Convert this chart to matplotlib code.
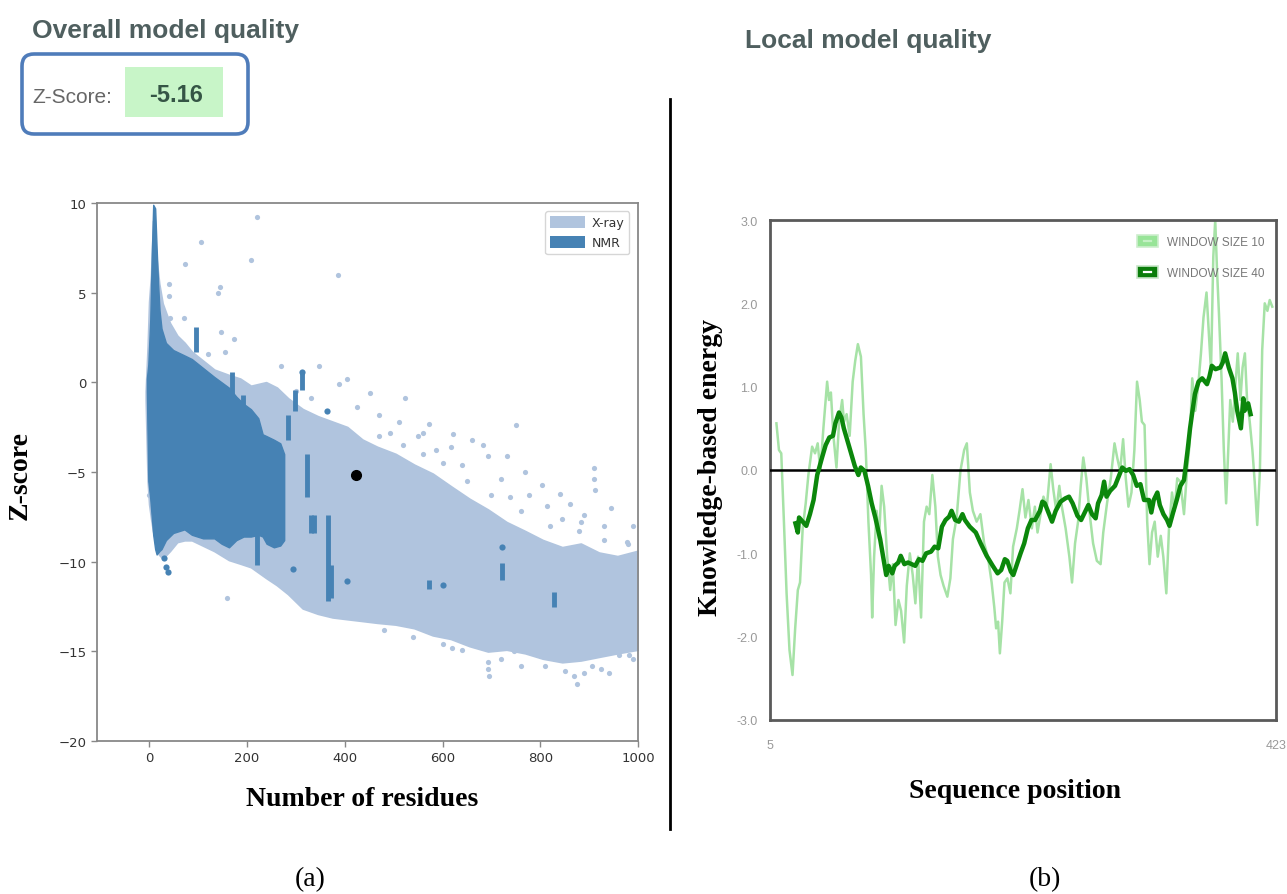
import matplotlib
matplotlib.use("Agg")
import matplotlib.pyplot as plt
from matplotlib.patches import FancyBboxPatch, Rectangle, Patch
from matplotlib.transforms import IdentityTransform
from matplotlib.lines import Line2D
from matplotlib.legend_handler import HandlerBase

# ---------------- data: panel (a) ----------------
xray_x = [-7, -3, 0, 4, 8, 14, 20, 27, 35, 42, 57, 72, 87, 110, 133, 163, 186, 208, 239, 261,
          284, 314, 345, 375, 405, 436, 466, 504, 542, 580, 617, 655, 693, 731, 769, 805, 845,
          883, 920, 958, 1000, 1010]
xray_upper = [-0.5, 2.0, 4.5, 6.0, 9.0, 7.0, 5.5, 4.4, 3.8, 3.3, 2.6, 2.2, 1.7, 1.2, 0.7, 0.4, 0.2,
              -0.2, 0.0, -0.3, -0.9, -1.5, -1.9, -2.2, -2.5, -3.2, -3.6, -4.0, -4.6, -5.1, -5.8,
              -6.5, -7.1, -7.8, -8.3, -8.8, -9.2, -9.0, -9.5, -9.7, -9.4, -9.4]
xray_lower = [-1.0, -5.5, -6.8, -7.6, -8.3, -9.0, -9.6, -9.8, -9.6, -9.4, -8.9, -8.8, -8.8, -9.1,
              -9.4, -9.9, -10.1, -10.3, -10.9, -11.3, -11.8, -12.6, -12.9, -13.1, -13.2, -13.3,
              -13.4, -13.5, -13.7, -14.1, -14.3, -14.7, -15.0, -14.9, -15.1, -15.4, -15.6, -15.5,
              -15.3, -15.1, -14.9, -14.9]
xray_sparse = [(220, 9.2), (105, 7.8), (74, 6.6), (208, 6.8), (386, 6.0), (40, 5.5), (40, 4.8),
               (144, 5.3), (140, 5.0), (42, 3.6), (70, 3.6), (146, 2.8), (174, 2.4), (155, 1.7),
               (121, 1.6), (269, 0.9), (348, 0.9), (405, 0.2), (388, -0.1), (451, -0.6),
               (523, -0.9), (424, -1.4), (572, -2.3), (750, -2.4), (621, -2.9), (682, -3.5),
               (803, -5.7), (909, -4.8), (909, -5.4), (912, -6.0), (945, -7.0), (977, -8.9),
               (0, -6.3), (159, -12.0), (889, -16.2), (924, -16.0), (693, -15.6), (693, -16.0),
               (695, -16.4), (875, -16.8), (746, -15.0), (799, -15.2), (962, -15.2), (981, -15.2),
               (492, -2.8), (549, -3.0), (587, -3.8), (617, -3.6), (640, -4.6), (693, -4.1),
               (731, -4.1), (769, -5.0), (739, -6.4), (777, -6.3), (814, -6.9), (845, -7.6),
               (883, -7.8), (890, -7.4), (300, -0.5), (330, -0.9), (470, -1.8), (510, -2.2),
               (560, -2.8), (660, -3.2), (720, -5.4), (840, -6.2), (860, -6.8), (930, -8.0),
               (990, -8.0), (850, -16.1), (870, -16.4), (760, -15.8), (640, -14.9), (600, -14.6),
               (940, -16.2), (470, -3.0), (520, -3.5), (560, -4.0), (600, -4.5), (650, -5.5),
               (700, -6.3), (760, -7.2), (820, -8.0), (880, -8.3), (930, -8.8), (980, -9.0),
               (480, -13.8), (540, -14.2), (620, -14.8), (720, -15.4), (810, -15.8), (905, -15.8),
               (990, -15.4)]

nmr_x = [-5, -2, 2, 5, 8, 12, 15, 18, 21, 25, 34, 49, 72, 87, 110, 133, 148, 163, 178, 193, 208,
         223, 232, 240, 255, 268, 276]
nmr_upper = [0.2, 1.0, 3.5, 7.0, 9.9, 9.7, 7.5, 5.5, 4.0, 3.0, 2.2, 1.8, 1.5, 1.3, 0.8, 0.3, 0.0,
             -0.3, -0.8, -1.2, -1.5, -2.0, -2.9, -3.0, -3.2, -3.4, -4.0]
nmr_lower = [-0.5, -5.5, -6.5, -7.5, -8.5, -9.3, -9.6, -9.5, -9.4, -9.3, -8.8, -8.4, -8.2, -8.5,
             -8.7, -8.7, -9.0, -9.2, -8.8, -8.6, -8.6, -8.5, -8.6, -9.0, -9.2, -9.1, -8.8]
nmr_streak_x = [95, 169, 191, 208, 220, 231, 283, 298, 312, 323, 330, 338, 365, 372, 572, 722, 828]
nmr_streak_lo = [1.7, -1.2, -2.2, -3.2, -10.2, -5.2, -3.2, -1.6, -0.4, -6.4, -8.4, -8.4, -12.2,
                 -12.0, -11.5, -11.0, -12.5]
nmr_streak_hi = [3.1, 0.6, -0.7, -1.8, -3.6, -3.0, -1.8, -0.4, 0.5, -4.0, -7.4, -7.4, -7.4, -10.2,
                 -11.0, -10.1, -11.7]
nmr_dots = [(312, 0.6), (364, -1.6), (294, -10.4), (405, -11.1), (601, -11.3), (722, -9.2),
            (30, -9.8), (35, -10.3), (38, -10.6)]

model_residues = 423
model_zscore = -5.16

xticks_a = [0, 200, 400, 600, 800, 1000]
yticks_a = [-20, -15, -10, -5, 0, 5, 10]

# ---------------- data: panel (b) ----------------
ws10_points = [(10.3, 0.56), (12.4, 0.24), (14.3, 0.20), (16.5, -0.62), (18.7, -1.48), (21.1, -2.16),
               (23.6, -2.46), (25.8, -1.90), (28.0, -1.44), (29.8, -1.35), (32.0, -0.70), (34.5, -0.40),
               (36.7, -0.06), (39.8, 0.28), (42.2, 0.20), (44.4, 0.32), (46.6, -0.01), (49.1, 0.50),
               (52.2, 1.06), (53.7, 0.84), (55.3, 0.93), (57.4, 0.41), (59.9, 0.03), (62.1, 0.58),
               (64.6, 0.84), (66.1, 0.58), (68.3, 0.67), (70.8, 0.41), (73.3, 1.06), (75.4, 1.31),
               (77.6, 1.51), (80.1, 1.36), (82.3, 0.67), (84.1, 0.24), (86.3, -0.62), (88.5, -1.26),
               (89.4, -1.77), (91.0, -1.04), (93.1, -0.49), (95.0, -0.83), (97.2, -0.19), (99.3, -0.44),
               (101.8, -1.04), (104.3, -1.44), (106.5, -1.13), (108.7, -1.86), (111.1, -1.56),
               (113.3, -1.69), (115.8, -2.07), (118.0, -1.39), (120.5, -1.00), (122.9, -1.26),
               (125.1, -1.60), (127.3, -1.04), (129.8, -1.77), (132.2, -0.62), (134.4, -0.44),
               (136.6, -0.53), (139.1, -0.06), (141.6, -0.44), (143.7, -1.04), (145.9, -1.26),
               (148.4, -1.39), (151.5, -1.52), (154.0, -1.30), (156.1, -0.83), (159.2, -0.57),
               (162.3, -0.01), (165.4, 0.24), (167.6, 0.32), (170.1, -0.27), (172.6, -0.49),
               (175.7, -0.62), (178.8, -0.53), (181.9, -0.88), (185.0, -1.04), (188.1, -1.35),
               (190.3, -1.65), (191.8, -1.90), (193.4, -1.82), (194.9, -2.20), (196.8, -1.82),
               (198.7, -1.35), (201.1, -1.30), (203.6, -1.48), (205.8, -0.92), (208.9, -0.70),
               (211.1, -0.49), (213.6, -0.23), (216.0, -0.57), (218.5, -0.36), (221.3, -0.70),
               (223.8, -0.44), (226.0, -0.75), (228.5, -0.53), (230.9, -0.32), (233.7, -0.44),
               (236.8, 0.07), (239.0, -0.23), (241.5, -0.49), (244.0, -0.19), (246.1, -0.44),
               (249.2, -0.70), (252.3, -1.04), (254.5, -1.35), (257.0, -0.88), (259.5, -0.62),
               (261.7, -0.19), (263.8, 0.15), (266.3, -0.10), (268.8, -0.49), (271.9, -0.88),
               (275.0, -1.09), (278.1, -1.13), (280.3, -0.75), (283.4, -0.40), (286.5, -0.10),
               (289.6, 0.32), (291.8, 0.15), (294.2, -0.01), (296.7, 0.37), (298.9, -0.10),
               (301.1, -0.44), (303.6, -0.27), (306.0, 0.24), (308.2, 1.06), (310.4, 0.84),
               (312.2, 0.58), (314.4, 0.54), (316.6, -0.62), (318.5, -1.13), (320.6, -0.75),
               (322.8, -0.62), (325.3, -1.04), (327.8, -0.79), (329.9, -1.04), (332.4, -1.48),
               (334.6, -0.70), (337.1, -0.27), (339.2, -0.49), (341.4, -0.10), (343.9, -0.14),
               (347.0, -0.53), (349.5, -0.01), (351.7, 0.32), (353.8, 1.10), (356.3, 0.71),
               (358.8, 1.02), (361.0, 1.40), (363.1, 1.83), (365.6, 2.13), (367.8, 1.57),
               (369.3, 1.19), (371.2, 2.56), (372.8, 3.00), (374.3, 2.39), (375.9, 1.87),
               (378.0, 1.10), (379.9, 0.24), (381.8, -0.40), (383.6, 0.24), (385.2, 0.84),
               (387.3, 0.58), (389.5, 1.02), (391.4, 1.40), (393.6, 0.84), (395.4, 1.23),
               (397.3, 1.40), (399.1, 0.84), (401.3, 0.58), (403.5, 0.24), (405.4, -0.14),
               (407.5, -0.66), (409.7, -0.01), (411.6, 1.44), (413.7, 2.00), (415.9, 1.91),
               (417.8, 2.04), (419.9, 1.96)]
ws40_points = [(26, -0.64), (28, -0.75), (29, -0.57), (32, -0.62), (35, -0.67), (38, -0.53),
               (41, -0.36), (44, -0.06), (48, 0.15), (51, 0.30), (54, 0.39), (57, 0.41), (59, 0.56),
               (62, 0.69), (64, 0.63), (66, 0.50), (69, 0.35), (72, 0.20), (75, 0.05), (78, -0.06),
               (80, 0.03), (83, -0.01), (86, -0.19), (89, -0.40), (92, -0.57), (96, -0.83),
               (99, -1.09), (101, -1.26), (103, -1.15), (106, -1.24), (108, -1.15), (111, -1.11),
               (113, -1.03), (116, -1.13), (119, -1.11), (122, -1.13), (125, -1.15), (128, -1.07),
               (131, -1.09), (134, -1.00), (138, -0.98), (141, -0.92), (144, -0.94), (147, -0.68),
               (150, -0.60), (153, -0.56), (155, -0.49), (158, -0.60), (161, -0.62), (164, -0.53),
               (166, -0.60), (170, -0.68), (175, -0.75), (179, -0.88), (184, -1.03), (189, -1.15),
               (193, -1.24), (196, -1.20), (199, -1.07), (201, -1.09), (204, -1.22), (206, -1.26),
               (209, -1.13), (212, -1.00), (215, -0.88), (218, -0.70), (221, -0.60), (224, -0.60),
               (228, -0.49), (230, -0.38), (232, -0.40), (235, -0.51), (238, -0.62), (241, -0.49),
               (245, -0.38), (249, -0.34), (252, -0.32), (255, -0.40), (259, -0.55), (262, -0.60),
               (265, -0.51), (268, -0.42), (271, -0.53), (274, -0.58), (276, -0.40), (279, -0.30),
               (281, -0.14), (283, -0.32), (286, -0.25), (290, -0.19), (293, -0.08), (296, 0.03),
               (299, -0.01), (302, 0.01), (305, -0.06), (308, -0.19), (311, -0.17), (314, -0.36),
               (318, -0.36), (320, -0.51), (322, -0.36), (325, -0.27), (327, -0.42), (330, -0.53),
               (333, -0.60), (335, -0.67), (338, -0.51), (341, -0.36), (344, -0.19), (347, -0.12),
               (350, 0.24), (352, 0.50), (354, 0.71), (356, 0.91), (359, 1.06), (362, 1.10),
               (366, 1.03), (368, 1.12), (370, 1.25), (373, 1.21), (377, 1.23), (379, 1.29),
               (381, 1.40), (384, 1.23), (387, 1.10), (389, 0.93), (391, 0.71), (394, 0.50),
               (396, 0.86), (397, 0.71), (400, 0.80), (402, 0.67)]
seq_start, seq_end = 5, 423
yticks_b = [-3.0, -2.0, -1.0, 0.0, 1.0, 2.0, 3.0]

# ---------------- style ----------------
XRAY = "#b0c4de"
NMR = "#4682b4"
WS10 = "#a6e2a6"
WS40 = "#0b870b"
SERIF = "Liberation Serif"
SANS = "Liberation Sans"

W, H = 1287, 895
fig = plt.figure(figsize=(W / 100, H / 100), dpi=100)
fig.patch.set_facecolor("white")


def fx(px):
    return px / W


def fy(py):
    return 1 - py / H


# ---------------- panel (a) ----------------
axL = fig.add_axes([fx(97), fy(742), (638 - 97) / W, (742 - 204) / H])
axL.fill_between(xray_x, xray_lower, xray_upper, color=XRAY, lw=1.5, edgecolor=XRAY, zorder=1)
sx, sy = zip(*xray_sparse)
axL.scatter(sx, sy, s=14, color=XRAY, linewidths=0, zorder=1)
axL.fill_between(nmr_x, nmr_lower, nmr_upper, color=NMR, lw=1.0, edgecolor=NMR, zorder=2)
axL.vlines(nmr_streak_x, nmr_streak_lo, nmr_streak_hi, colors=NMR, lw=3.5, zorder=2)
nx, ny = zip(*nmr_dots)
axL.scatter(nx, ny, s=20, color=NMR, linewidths=0, zorder=2)
axL.plot([model_residues], [model_zscore], "o", color="black", ms=7, zorder=5)

axL.set_xlim(-107, 1000)
axL.set_ylim(-20, 10)
axL.set_xticks(xticks_a)
axL.set_yticks(yticks_a)
for s in axL.spines.values():
    s.set_color("#888888")
    s.set_linewidth(1.3)
axL.tick_params(length=4, width=1, color="#888888", labelcolor="#333333", labelsize=9.5)

leg = axL.legend(handles=[Patch(facecolor=XRAY, label="X-ray"), Patch(facecolor=NMR, label="NMR")],
                 loc="upper left", bbox_to_anchor=(0.829, 0.985), borderaxespad=0, fontsize=9,
                 handlelength=2.8, handleheight=1.1, labelspacing=0.55, handletextpad=0.5,
                 frameon=True, edgecolor="#cccccc", labelcolor="#333333")

# ---------------- panel (b) ----------------
axR = fig.add_axes([fx(770), fy(721), 506 / W, 500 / H])
w10x, w10y = zip(*ws10_points)
w40x, w40y = zip(*ws40_points)
axR.plot(w10x, w10y, color=WS10, lw=1.8, zorder=2, solid_joinstyle="round")
axR.axhline(0, color="black", lw=1.8, zorder=3)
axR.plot(w40x, w40y, color=WS40, lw=3.2, zorder=4, solid_joinstyle="round")
axR.set_xlim(seq_start, seq_end)
axR.set_ylim(-3, 3)
axR.set_yticks(yticks_b)
axR.set_yticklabels([f"{v:.1f}" for v in yticks_b], fontfamily=SANS)
axR.set_xticks([seq_start, seq_end])
axR.set_xticklabels([str(seq_start), str(seq_end)], fontfamily=SANS)
axR.tick_params(axis="y", length=0, pad=9, labelsize=9, labelcolor="#999999")
axR.tick_params(axis="x", length=0, pad=14, labelsize=9, labelcolor="#999999")
for s in axR.spines.values():
    s.set_color("#5a5a5a")
    s.set_linewidth(2)


class DashBox(HandlerBase):
    def __init__(self, face, edge, dash):
        super().__init__()
        self.face, self.edge, self.dash = face, edge, dash

    def create_artists(self, legend, orig_handle, xdescent, ydescent, width, height, fontsize, trans):
        r = Rectangle((-xdescent, -ydescent), width, height, facecolor=self.face,
                      edgecolor=self.edge, lw=1.2, transform=trans)
        cx = -xdescent + width / 2
        cy = -ydescent + height / 2
        ln = Line2D([cx - width * 0.18, cx + width * 0.18], [cy, cy], color=self.dash, lw=1.6,
                    transform=trans)
        return [r, ln]


h10 = Line2D([], [], label="WINDOW SIZE 10")
h40 = Line2D([], [], label="WINDOW SIZE 40")
axR.legend(handles=[h10, h40], loc="upper left", bbox_to_anchor=((1137 - 770) / 506, 1 - (236 - 221) / 500),
           borderaxespad=0, borderpad=0, frameon=False, handlelength=1.8,
           handleheight=1.2, labelspacing=1.5, handletextpad=0.7, labelcolor="#777777",
           prop={"family": SANS, "size": 8.5},
           handler_map={h10: DashBox("#98e498", "#cdeecd", "#c4f0c4"),
                        h40: DashBox("#0b7d0b", "#c8e6c8", "white")})

# ---------------- figure-level text & decoration ----------------
fig.text(fx(32), fy(38), "Overall model quality", fontfamily=SANS, fontweight="bold", fontsize=19,
         color="#4f5f5f", ha="left", va="baseline")
fig.text(fx(745), fy(48), "Local model quality", fontfamily=SANS, fontweight="bold", fontsize=19,
         color="#4f5f5f", ha="left", va="baseline")

box = FancyBboxPatch((22, H - 135), 226, 80, boxstyle="round,pad=0,rounding_size=12",
                     transform=IdentityTransform(), facecolor="white", edgecolor="#4f7cba", lw=2.6)
fig.patches.append(box)
green = Rectangle((125, H - 118), 98, 50, transform=IdentityTransform(), facecolor="#c8f5c8",
                  edgecolor="none")
fig.patches.append(green)
fig.text(fx(32), fy(103), "Z-Score:", fontfamily=SANS, fontsize=15, color="#666666",
         ha="left", va="baseline")
fig.text(fx(176), fy(102), f"{model_zscore:.2f}", fontfamily=SANS, fontweight="bold", fontsize=17,
         color="#355545", ha="center", va="baseline")

fig.add_artist(Line2D([fx(670), fx(670)], [fy(100), fy(830)], transform=fig.transFigure,
                      color="black", lw=2))

fig.text(fx(20), fy(475), "Z-score", fontfamily=SERIF, fontweight="bold", fontsize=20,
         rotation=90, ha="center", va="center")
fig.text(fx(362), fy(800), "Number of residues", fontfamily=SERIF, fontweight="bold", fontsize=20,
         ha="center", va="center")
fig.text(fx(711), fy(468), "Knowledge-based energy", fontfamily=SERIF, fontweight="bold",
         fontsize=20, rotation=90, ha="center", va="center")
fig.text(fx(1015), fy(792), "Sequence position", fontfamily=SERIF, fontweight="bold", fontsize=20,
         ha="center", va="center")
fig.text(fx(310), fy(880), "(a)", fontfamily=SERIF, fontsize=20, ha="center", va="center")
fig.text(fx(1045), fy(880), "(b)", fontfamily=SERIF, fontsize=20, ha="center", va="center")

fig.savefig("out.png", dpi=100, facecolor="white")
